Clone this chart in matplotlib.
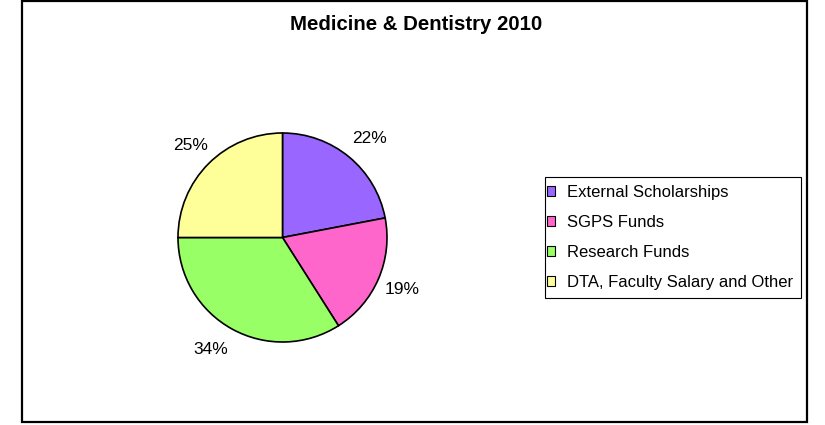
import matplotlib
matplotlib.use("Agg")
import matplotlib.pyplot as plt
from matplotlib.patches import Rectangle

plt.rcParams['font.family'] = ['Liberation Sans', 'DejaVu Sans']

title = "Medicine & Dentistry 2010"
categories = ["External Scholarships", "SGPS Funds", "Research Funds",
              "DTA, Faculty Salary and Other"]
values = [22, 19, 34, 25]
colors = ["#9966FF", "#FF66CC", "#99FF66", "#FFFF99"]

W, H = 825, 425
fig = plt.figure(figsize=(W / 100, H / 100), dpi=100)
ax = fig.add_axes([0, 0, 1, 1])

cx, cy, r = 282.5, H - 237.5, 104.5
wedges, texts, autotexts = ax.pie(
    values, colors=colors, startangle=90, counterclock=False,
    center=(cx, cy), radius=r, frame=True,
    autopct=lambda p: f"{p:.0f}%", pctdistance=1.25,
    wedgeprops=dict(edgecolor="black", linewidth=1.2),
    textprops=dict(fontsize=12.5, color="black"))
ax.set_xlim(0, W)
ax.set_ylim(0, H)
ax.set_axis_off()

# small label nudges (pixels) to match the reference placement
nudges = [(4, -1.5), (0, 0), (-9, 2), (0, 0)]
for t, (dx, dy) in zip(autotexts, nudges):
    x, y = t.get_position()
    t.set_position((x + dx, y + dy))

fig.text(416 / W, 1 - 25 / H, title, ha="center", va="center",
         fontsize=14.7, fontweight="bold")

leg = fig.legend(wedges, categories, loc="upper left",
                 bbox_to_anchor=(547 / W, 1 - 185 / H), borderaxespad=0,
                 fontsize=12, frameon=False,
                 handlelength=0.5, handleheight=0.5,
                 handletextpad=0.7, labelspacing=0.9, borderpad=0)
for h in leg.legend_handles:
    h.set_linewidth(0.8)

# legend frame
fig.add_artist(Rectangle((545 / W, 1 - 298 / H), (801 - 545) / W, (298 - 177) / H,
                         transform=fig.transFigure, fill=False,
                         edgecolor="black", linewidth=0.8))

# outer chart border
fig.add_artist(Rectangle((22 / W, 1 - 422 / H), (807 - 22) / W, (422 - 1) / H,
                         transform=fig.transFigure, fill=False,
                         edgecolor="black", linewidth=1.6))

fig.savefig("out.png", dpi=100)
